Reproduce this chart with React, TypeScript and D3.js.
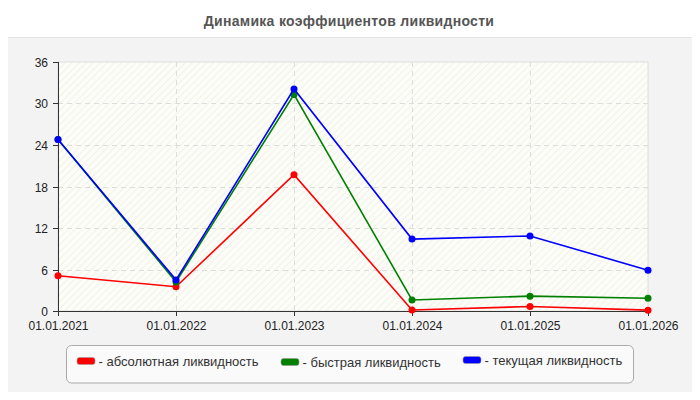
import { useMemo } from "react";
import { scalePoint, scaleLinear, line } from "d3";

const dates = ["01.01.2021", "01.01.2022", "01.01.2023", "01.01.2024", "01.01.2025", "01.01.2026"];
const absolute = [5.1, 3.5, 19.7, 0.15, 0.65, 0.12];
const quick = [24.8, 4.2, 31.3, 1.6, 2.15, 1.85];
const current = [24.8, 4.5, 32.1, 10.4, 10.85, 5.9];
const yTicks = [0, 6, 12, 18, 24, 30, 36];

const series = [
  { name: "- абсолютная ликвидность", color: "#ff0000", values: absolute },
  { name: "- быстрая ликвидность", color: "#008000", values: quick },
  { name: "- текущая ликвидность", color: "#0000ff", values: current },
];

const W = 700;
const H = 400;
const margin = { top: 62, right: 52, bottom: 89, left: 58 };

export default function App() {
  const w = W - margin.left - margin.right;
  const h = H - margin.top - margin.bottom;

  const x = useMemo(() => scalePoint<string>().domain(dates).range([0, w]), [w]);
  const y = useMemo(() => scaleLinear().domain([0, 36]).range([h, 0]), [h]);

  const lineFn = line<number>()
    .x((_, i) => x(dates[i]) ?? 0)
    .y((d) => y(d));

  // legend item positions (swatch left, vertical centre)
  const legendX = [77, 281, 463];
  const legendY = [361, 362, 360];

  return (
    <div style={{ margin: -8, width: W, height: H, overflow: "hidden" }}>
      <svg width={W} height={H} style={{ display: "block", fontFamily: "Arial, 'Liberation Sans', sans-serif" }}>
        <defs>
          <pattern id="hatch" width="5" height="5" patternUnits="userSpaceOnUse" patternTransform="rotate(45)">
            <line x1="0" y1="0" x2="0" y2="5" stroke="#eaeae2" strokeWidth="1.2" />
          </pattern>
        </defs>
        <rect x={0} y={0} width={W} height={H} fill="#ffffff" />
        <text x={349} y={26} textAnchor="middle" fontSize={14} fontWeight="bold" letterSpacing={0.3} fill="#555555">
          Динамика коэффициентов ликвидности
        </text>
        <rect x={0.5} y={37.5} width={W - 1} height={H - 39} rx={8} fill="#f3f3f3" stroke="#e2e2e2" />
        <g transform={`translate(${margin.left},${margin.top})`}>
          <rect x={0} y={0} width={w} height={h} fill="#fdfdf7" stroke="#dddddd" />
          <rect x={0} y={0} width={w} height={h} fill="url(#hatch)" />
          {yTicks.slice(1, -1).map((t) => (
            <line key={t} x1={0} x2={w} y1={Math.round(y(t)) + 0.5} y2={Math.round(y(t)) + 0.5} stroke="#dddddd" strokeDasharray="5,4" />
          ))}
          {dates.slice(1, -1).map((d) => (
            <line key={d} x1={Math.round(x(d) ?? 0) + 0.5} x2={Math.round(x(d) ?? 0) + 0.5} y1={0} y2={h} stroke="#dddddd" strokeDasharray="5,4" />
          ))}
          <line x1={0.5} x2={0.5} y1={0} y2={h} stroke="#333333" />
          <line x1={0} x2={w} y1={h + 0.5} y2={h + 0.5} stroke="#333333" />
          {yTicks.map((t) => (
            <g key={t} transform={`translate(0,${Math.round(y(t)) + 0.5})`}>
              <line x1={-5} x2={0} stroke="#333333" />
              <text x={-10} dy="0.35em" textAnchor="end" fontSize={12} fill="#222222">
                {t}
              </text>
            </g>
          ))}
          {dates.map((d) => (
            <g key={d} transform={`translate(${Math.round(x(d) ?? 0) + 0.5},${h})`}>
              <line y1={0} y2={5} stroke="#333333" />
              <text y={18.5} textAnchor="middle" fontSize={12} fill="#222222">
                {d}
              </text>
            </g>
          ))}
          {series.map((s) => (
            <g key={s.name}>
              <path d={lineFn(s.values) ?? ""} fill="none" stroke={s.color} strokeWidth={1.6} />
              {s.values.map((v, i) => (
                <circle key={i} cx={x(dates[i])} cy={y(v)} r={3.5} fill={s.color} />
              ))}
            </g>
          ))}
        </g>
        <rect x={66.5} y={345.5} width={567} height={37.5} rx={5} fill="#fafafa" stroke="#aaaaaa" />
        {series.map((s, i) => (
          <g key={s.name} transform={`translate(${legendX[i]},${legendY[i]})`}>
            <rect x={0} y={-3.5} width={18} height={7} rx={2.5} fill={s.color} stroke="#999999" strokeWidth={0.6} />
            <text x={21.5} y={0} dy="0.35em" fontSize={13} fill="#333333">
              {s.name}
            </text>
          </g>
        ))}
      </svg>
    </div>
  );
}
